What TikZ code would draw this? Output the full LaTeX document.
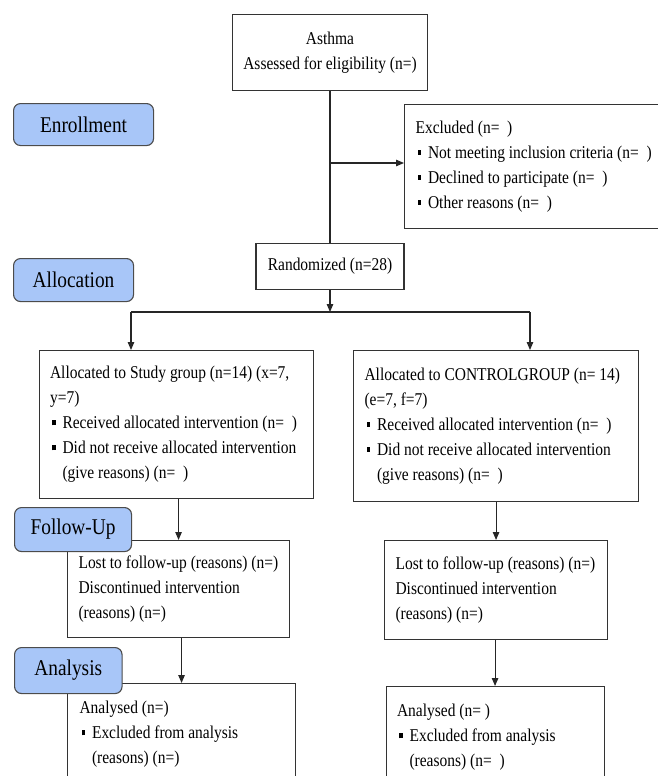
\documentclass[tikz,border=0pt]{standalone}
\usepackage{fontspec}
\setmainfont{Liberation Serif}[FakeStretch=0.86]
\usetikzlibrary{arrows.meta,positioning}
\definecolor{stageblue}{RGB}{168,198,248}
\newcommand{\sqbul}{\hspace*{2pt}\rule[3.5pt]{3.5pt}{5pt}\hspace{7pt}}
\newcommand{\hangin}{\hspace*{12.5pt}}

\begin{document}
\begin{tikzpicture}[x=1pt,y=-1pt,
  box/.style={draw=black!80,line width=1.1pt,inner xsep=11pt,inner ysep=0pt,
    align=flush left,font=\fontsize{18}{25}\selectfont},
  stage/.style={draw=black!70,line width=1.1pt,fill=stageblue,rounded corners=7pt,
    inner sep=0pt,font=\fontsize{22.5}{25}\selectfont},
  flow/.style={line width=1.1pt,black!85},
  arr/.style={flow,-{Triangle[length=8pt,width=6.5pt]}}]
  \useasboundingbox (0,0) rectangle (657,776); % 画像全体の範囲
  \node[box,anchor=north,align=center,minimum width=195pt,minimum height=76pt]
    (screen) at (330,14) {Asthma\\Assessed for eligibility (n=)}; % 最上段の箱
  \node[box,anchor=north west,text width=280pt,minimum height=124pt] (excl) at (404,104)
    {Excluded (n=~~)\\
     \sqbul Not meeting inclusion criteria (n=~~)\\
     \sqbul Declined to participate (n=~~)\\
     \sqbul Other reasons (n=~~)}; % 除外の箱（右端ははみ出す）
  \node[box,anchor=north,align=center,minimum width=148pt,minimum height=46pt]
    (rand) at (330,243) {Randomized (n=28)}; % 無作為化の箱
  \node[box,anchor=north west,text width=252pt,minimum height=148pt] (study) at (38.5,350)
    {Allocated to Study group (n=14) (x=7,\\
     y=7)\\
     \sqbul Received allocated intervention (n=~~)\\
     \sqbul Did not receive allocated intervention\\
     \hangin (give reasons) (n=~~)}; % 研究群の箱
  \node[box,anchor=north west,text width=263pt,minimum height=151pt] (control) at (353,350)
    {Allocated to CONTROLGROUP (n= 14)\\
     (e=7, f=7)\\
     \sqbul Received allocated intervention (n=~~)\\
     \sqbul Did not receive allocated intervention\\
     \hangin (give reasons) (n=~~)}; % 対照群の箱
  \node[box,anchor=north west,text width=200pt,minimum height=97pt] (fuL) at (67,540)
    {Lost to follow-up (reasons) (n=)\\
     Discontinued intervention\\
     (reasons) (n=)}; % 追跡（左）
  \node[box,anchor=north west,text width=201pt,minimum height=99pt] (fuR) at (384,540)
    {Lost to follow-up (reasons) (n=)\\
     Discontinued intervention\\
     (reasons) (n=)}; % 追跡（右）
  \node[box,anchor=north west,text width=204pt,minimum height=102pt,inner xsep=12pt]
    (anaL) at (67,683)
    {Analysed (n=)\\
     \sqbul Excluded from analysis\\
     \hangin (reasons) (n=)}; % 解析（左、下端ははみ出す）
  \node[box,anchor=north west,text width=196pt,minimum height=102pt] (anaR) at (385.5,686)
    {Analysed (n= )\\
     \sqbul Excluded from analysis\\
     \hangin (reasons) (n=~~)}; % 解析（右）
  \node[stage,anchor=north west,minimum width=140pt,minimum height=42pt]
    (enrol) at (13,103) {Enrollment}; % 段階ラベル1
  \node[stage,anchor=north west,minimum width=120pt,minimum height=43pt]
    (alloc) at (13,258) {Allocation}; % 段階ラベル2
  \node[stage,anchor=north west,minimum width=117pt,minimum height=44pt]
    (follow) at (14,507) {Follow-Up}; % 段階ラベル3
  \node[stage,anchor=north west,minimum width=107.5pt,minimum height=46pt]
    (analysis) at (14,647) {Analysis}; % 段階ラベル4
  \coordinate (branch) at (screen.south |- 0,163); % 除外への分岐点
  \coordinate (splitL) at (131,312); % 左への分岐点
  \coordinate (splitR) at (530,312); % 右への分岐点
  \coordinate (splitM) at (rand.south |- splitL); % 中央の合流点
  \draw[flow] (screen.south) -- (rand.north); % 縦の幹線
  \draw[arr] (branch) -- (branch -| excl.west); % 除外への矢印
  \draw[arr] (rand.south) -- (splitM); % 無作為化から横線へ
  \draw[flow] (splitL) -- (splitR); % 横線
  \draw[arr] (splitL) -- (splitL |- study.north); % 研究群への矢印
  \draw[arr] (splitR) -- (splitR |- control.north); % 対照群への矢印
  \draw[arr] (study.south -| fuL.north) -- (fuL.north); % 研究群から追跡へ
  \draw[arr] (control.south -| fuR.north) -- (fuR.north); % 対照群から追跡へ
  \draw[arr] (fuL.south -| anaL.north) -- (anaL.north); % 追跡から解析へ（左）
  \draw[arr] (fuR.south -| anaR.north) -- (anaR.north); % 追跡から解析へ（右）
\end{tikzpicture}
\end{document}
